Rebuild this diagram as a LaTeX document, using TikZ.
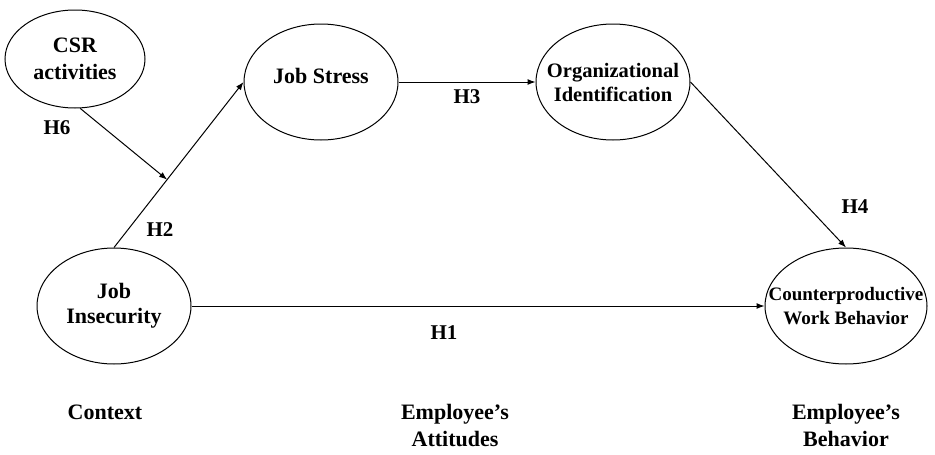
\documentclass[tikz,border=0pt]{standalone}
\usepackage{fontspec}
\setmainfont{Liberation Serif}
\usetikzlibrary{shapes.geometric,arrows.meta}
\tikzset{
  construct/.style={draw, ellipse, line width=1pt, inner ysep=0pt, inner xsep=-30pt, align=center,
    font=\bfseries\fontsize{22}{25}\selectfont},
  hyp/.style={font=\bfseries\fontsize{21}{24}\selectfont},
  level/.style={font=\bfseries\fontsize{22}{27}\selectfont, align=center},
  link/.style={line width=1pt, -{Latex[length=8pt,width=6pt]}}
}
\begin{document}
\begin{tikzpicture}[x=1pt,y=-1pt]
\useasboundingbox (0,0) rectangle (935,455);
\node[construct, minimum width=140pt, minimum height=98pt, font=\bfseries\fontsize{22}{27}\selectfont] (csr) at (75,59) {CSR\\activities};
\node[construct, minimum width=154pt, minimum height=116pt] (js) at (321,82) {\raisebox{12pt}{Job Stress}};
\node[construct, minimum width=154pt, minimum height=116pt, font=\bfseries\fontsize{20.5}{24}\selectfont] (oi) at (613,82) {Organizational\\Identification};
\node[construct, minimum width=154pt, minimum height=116pt] (ji) at (114,306) {Job\\Insecurity};
\node[construct, minimum width=162pt, minimum height=116pt, font=\bfseries\fontsize{19}{24}\selectfont] (cwb) at (846,306) {Counterproductive\\Work Behavior};

\draw[link] (ji.north)--coordinate[pos=.41](mod)(js.west);
\draw[link] (csr.-84)--(mod);
\draw[link] (js.east)--(oi.west);
\draw[link] (oi.east)--(cwb.north);
\draw[link] (ji.east)--(cwb.west);

\node[hyp] (h6) at (57,128) {H6};
\node[hyp] (h2) at (160,230) {H2};
\node[hyp] (h3) at (467,97) {H3};
\node[hyp] (h4) at (855,207) {H4};
\node[hyp] (h1) at (444,333) {H1};

\node[level] (context) at (105,412) {Context};
\node[level] (attitudes) at (455,425) {Employee’s\\Attitudes};
\node[level] (behavior) at (846,425) {Employee’s\\Behavior};
\end{tikzpicture}
\end{document}
